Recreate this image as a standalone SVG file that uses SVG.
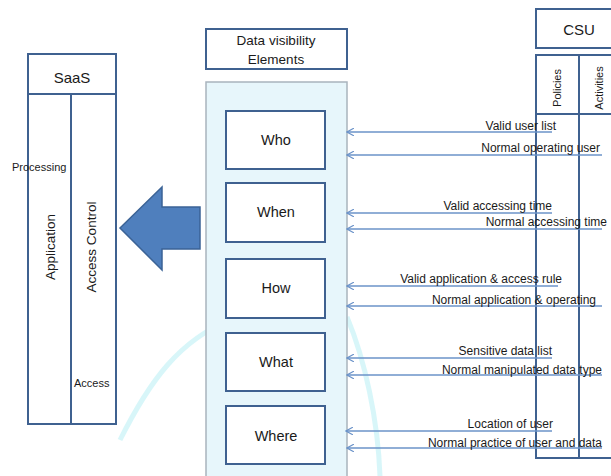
<svg xmlns="http://www.w3.org/2000/svg" width="611" height="476" viewBox="0 0 611 476">
<defs>
<style>
.box{fill:#fff;stroke:#3f6190;stroke-width:2}
.lbl{font-family:"Liberation Sans",Arial,sans-serif;fill:#1a1a1a}
.big{font-size:14.5px;text-anchor:middle}
.sm{font-size:12px;text-anchor:end}
.vt{font-size:11px;text-anchor:middle}
.conn{stroke:#6b93c9;stroke-width:1.3;fill:none}
</style>
<marker id="ah" viewBox="0 0 10 10" refX="9" refY="5" markerWidth="8" markerHeight="8" markerUnits="userSpaceOnUse" orient="auto">
<path d="M0,0 L9,5 L0,10" fill="none" stroke="#6b93c9" stroke-width="1.5"/>
</marker>
</defs>
<rect width="611" height="476" fill="#fff"/>
<path d="M120,440 C150,380 180,340 230,320" fill="none" stroke="#a8ecf2" stroke-width="5" opacity="0.45"/>
<path d="M347,317 C365,360 378,420 380,476" fill="none" stroke="#a8ecf2" stroke-width="5" opacity="0.45"/>

<g id="saas">
<rect class="box" x="28" y="54" width="88" height="370"/>
<line x1="28" y1="94" x2="116" y2="94" stroke="#3f6190" stroke-width="2"/>
<line x1="71" y1="94" x2="71" y2="424" stroke="#3f6190" stroke-width="2"/>
<text class="lbl" x="72" y="83" font-size="15" text-anchor="middle">SaaS</text>
<text class="lbl" x="12" y="171" font-size="11">Processing</text>
<text class="lbl" font-size="13.5" text-anchor="middle" transform="translate(55,247) rotate(-90)">Application</text>
<text class="lbl" font-size="13.5" text-anchor="middle" transform="translate(96,247) rotate(-90)">Access Control</text>
<text class="lbl" x="74" y="387" font-size="11">Access</text>
</g>

<g id="big-arrow">
<path d="M120,228 L162,187 L162,207 L200,207 L200,249 L162,249 L162,270 Z" fill="#4f7fbd" stroke="#3b6396" stroke-width="1.5"/>
</g>

<g id="dve-title">
<rect class="box" x="206" y="29" width="141" height="40"/>
<text class="lbl" x="276" y="45" font-size="13.5" text-anchor="middle">Data visibility</text>
<text class="lbl" x="276" y="64" font-size="13.5" text-anchor="middle">Elements</text>
</g>

<g id="dve-panel">
<rect x="206" y="82" width="141" height="400" fill="#e7f6fb" stroke="#a9b4bd" stroke-width="1.5"/>
</g>
<g id="who"><rect class="box" x="226" y="111" width="99" height="58"/><text class="lbl big" x="276" y="145">Who</text></g>
<g id="when"><rect class="box" x="226" y="183" width="99" height="59"/><text class="lbl big" x="276" y="217">When</text></g>
<g id="how"><rect class="box" x="226" y="259" width="99" height="59"/><text class="lbl big" x="276" y="293">How</text></g>
<g id="what"><rect class="box" x="226" y="333" width="99" height="58"/><text class="lbl big" x="276" y="367">What</text></g>
<g id="where"><rect class="box" x="226" y="406" width="99" height="58"/><text class="lbl big" x="276" y="441">Where</text></g>

<g id="csu">
<rect class="box" x="536" y="9" width="80" height="39"/>
<text class="lbl" x="579" y="35" font-size="15" text-anchor="middle">CSU</text>
<rect class="box" x="536" y="55" width="80" height="403" fill="none"/>
<line x1="579" y1="55" x2="579" y2="458" stroke="#3f6190" stroke-width="2"/>
<line x1="536" y1="114" x2="611" y2="114" stroke="#3f6190" stroke-width="2"/>
<text class="lbl vt" transform="translate(561,88) rotate(-90)">Policies</text>
<text class="lbl vt" transform="translate(603,88) rotate(-90)">Activities</text>
</g>

<g id="connectors">
<line class="conn" x1="552" y1="132" x2="347" y2="132" marker-end="url(#ah)"/>
<line class="conn" x1="602" y1="155" x2="347" y2="155" marker-end="url(#ah)"/>
<line class="conn" x1="552" y1="213" x2="347" y2="213" marker-end="url(#ah)"/>
<line class="conn" x1="602" y1="229" x2="347" y2="229" marker-end="url(#ah)"/>
<line class="conn" x1="558" y1="286" x2="347" y2="286" marker-end="url(#ah)"/>
<line class="conn" x1="602" y1="306" x2="347" y2="306" marker-end="url(#ah)"/>
<line class="conn" x1="552" y1="358" x2="347" y2="358" marker-end="url(#ah)"/>
<line class="conn" x1="602" y1="375" x2="347" y2="375" marker-end="url(#ah)"/>
<line class="conn" x1="552" y1="431" x2="346" y2="431" marker-end="url(#ah)"/>
<line class="conn" x1="602" y1="448" x2="347" y2="448" marker-end="url(#ah)"/>
<text class="lbl sm" x="556" y="130">Valid user list</text>
<text class="lbl sm" x="600" y="152">Normal operating user</text>
<text class="lbl sm" x="552" y="210">Valid accessing time</text>
<text class="lbl sm" x="607" y="226">Normal accessing time</text>
<text class="lbl sm" x="562" y="283">Valid application &amp; access rule</text>
<text class="lbl sm" x="596" y="304">Normal application &amp; operating</text>
<text class="lbl sm" x="552" y="355">Sensitive data list</text>
<text class="lbl sm" x="602" y="374">Normal manipulated data type</text>
<text class="lbl sm" x="553" y="428">Location of user</text>
<text class="lbl sm" x="602" y="447">Normal practice of user and data</text>
</g>
</svg>
